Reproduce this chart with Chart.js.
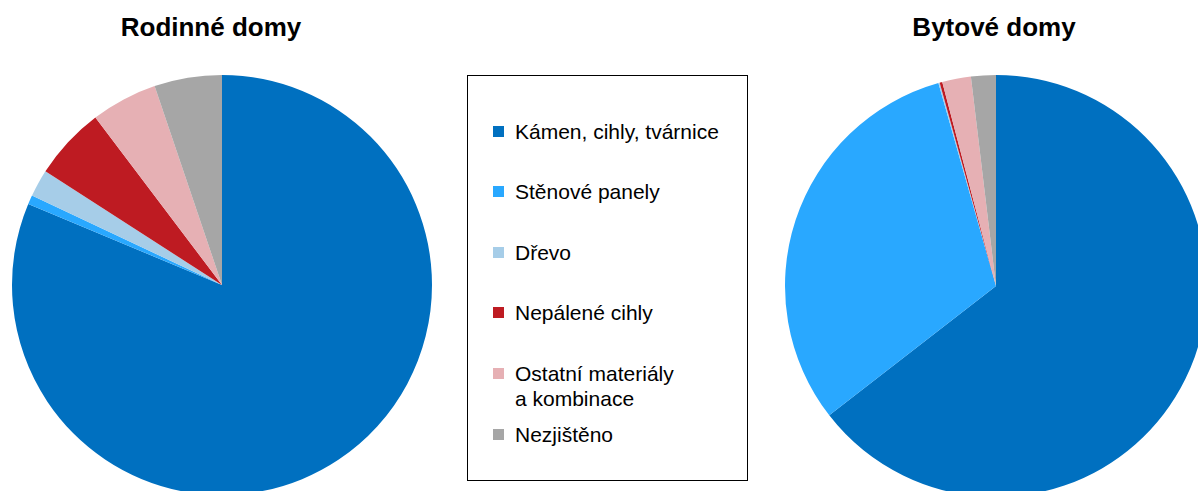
<!DOCTYPE html>
<html>
<head>
<meta charset="utf-8">
<script src="https://cdn.jsdelivr.net/npm/chart.js@4.4.1/dist/chart.umd.min.js"></script>
<style>
  html, body { margin:0; padding:0; width:1198px; height:491px; overflow:hidden; background:#fff; font-family:"Liberation Sans", Arial, sans-serif; }
  .title { position:absolute; top:14px; width:300px; text-align:center; font-weight:bold; font-size:26px; line-height:26px; color:#000; }
  .pie { position:absolute; width:440px; height:440px; }
  #legend { position:absolute; left:467px; top:75px; width:279px; height:404px; border:1.5px solid #000; }
  .item { position:absolute; left:0; font-size:21px; line-height:25px; color:#000; white-space:pre-line; }
  .sw { position:absolute; left:25px; top:7px; width:11px; height:11px; }
  .lbl { position:absolute; left:47px; top:0; white-space:pre; }
</style>
</head>
<body>
<div class="title" id="t1" style="left:61px"></div>
<div class="title" id="t2" style="left:844px"></div>
<canvas id="c1" class="pie" width="440" height="440" style="left:2px; top:65px"></canvas>
<canvas id="c2" class="pie" width="440" height="440" style="left:776px; top:66px"></canvas>
<div id="legend"></div>
<script>
// ---- data ----
const categories = ["Kámen, cihly, tvárnice", "Stěnové panely", "Dřevo", "Nepálené cihly", "Ostatní materiály\na kombinace", "Nezjištěno"];
const colors = ["#0070C0", "#29A8FF", "#A6CDE8", "#BE1B22", "#E6B0B4", "#A6A6A6"];
const chartTitles = ["Rodinné domy", "Bytové domy"];
const rodinneDomy = [81.3, 0.7, 2.1, 5.6, 5.1, 5.2];
const bytoveDomy = [64.5, 31.1, 0.1, 0.2, 2.2, 1.9];

document.getElementById('t1').textContent = chartTitles[0];
document.getElementById('t2').textContent = chartTitles[1];

function makePie(id, values, r) {
  return new Chart(document.getElementById(id), {
    type: 'pie',
    data: {
      labels: categories,
      datasets: [{ data: values, backgroundColor: colors, borderWidth: 0, radius: r }]
    },
    options: {
      responsive: false,
      animation: false,
      devicePixelRatio: 1,
      layout: { padding: 0 },
      plugins: { legend: { display: false }, tooltip: { enabled: false }, title: { display: false } }
    }
  });
}
makePie('c1', rodinneDomy, 210);
makePie('c2', bytoveDomy, 211);

// legend built from the arrays
const lg = document.getElementById('legend');
categories.forEach((c, i) => {
  const it = document.createElement('div');
  it.className = 'item';
  it.style.top = (42.5 + i * 60.6) + 'px';
  it.style.width = '270px';
  const sw = document.createElement('div');
  sw.className = 'sw';
  sw.style.background = colors[i];
  const lb = document.createElement('div');
  lb.className = 'lbl';
  lb.textContent = c;
  it.appendChild(sw);
  it.appendChild(lb);
  lg.appendChild(it);
});
</script>
</body>
</html>
